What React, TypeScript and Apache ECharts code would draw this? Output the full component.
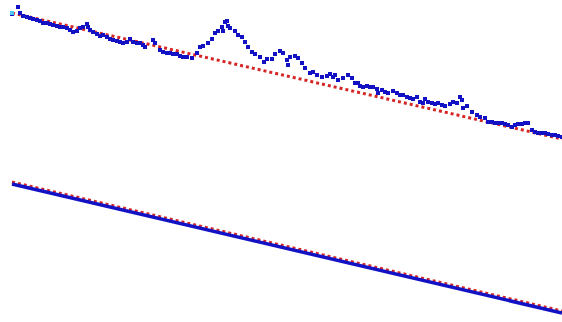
import React, { useEffect, useRef } from "react";
import * as echarts from "echarts";

// Measured profile (upper band): x position and level
const measuredX = [
  0, 6, 8, 11, 15, 18, 21, 25, 28, 31, 35, 38, 41, 45, 48, 51, 55, 58, 61, 65, 68, 71, 75, 76, 78, 81, 85, 88, 91, 95,
  98, 101, 105, 108, 111, 115, 118, 121, 125, 128, 131, 133, 141, 143, 148, 151, 155, 158, 161, 165, 168, 171, 175, 180,
  185, 188, 191, 196, 200, 203, 206, 210, 211, 213, 215, 216, 218, 223, 226, 230, 233, 236, 240, 243, 248, 252, 255, 260,
  263, 268, 271, 275, 276, 278, 283, 286, 290, 293, 298, 301, 305, 310, 315, 318, 321, 323, 326, 331, 336, 340, 343, 346,
  348, 351, 355, 358, 361, 365, 366, 370, 373, 376, 381, 385, 388, 391, 395, 398, 401, 405, 408, 411, 413, 416, 420, 423,
  426, 430, 433, 438, 441, 445, 448, 450, 451, 455, 460, 465, 468, 473, 476, 480, 483, 486, 490, 493, 496, 500, 503, 506,
  510, 513, 516, 520, 523, 526, 530, 533, 536, 540, 543, 546, 550,
];
const measuredY = [
  308, 315, 309, 306, 305, 304, 303, 302, 301, 299, 299, 298, 297, 296, 295, 295, 294, 292, 290, 291, 294, 295, 298, 295,
  292, 290, 288, 286, 287, 285, 283, 282, 281, 280, 279, 280, 283, 280, 279, 279, 277, 275, 282, 279, 272, 270, 269, 269,
  268, 268, 266, 265, 265, 264, 269, 275, 276, 279, 283, 289, 291, 295, 291, 300, 301, 296, 294, 291, 287, 285, 280, 275,
  270, 268, 265, 260, 263, 263, 268, 271, 269, 262, 257, 265, 266, 264, 259, 254, 249, 250, 247, 245, 246, 248, 245, 247,
  242, 244, 247, 244, 239, 239, 236, 235, 236, 235, 235, 233, 229, 232, 230, 229, 231, 229, 227, 227, 225, 224, 223, 225,
  220, 219, 223, 220, 219, 218, 219, 217, 216, 218, 220, 219, 225, 222, 214, 216, 210, 207, 205, 204, 200, 200, 199, 199,
  199, 198, 197, 195, 197, 198, 198, 199, 199, 192, 190, 189, 189, 189, 188, 187, 187, 186, 185,
];

// Linear trend of the upper band (start / end)
const trendUpper = [
  [0, 309],
  [550, 183],
];

// Lower band: reference curve and its fitted trend
const curveLower = [
  [0, 138],
  [550, 9],
];
const trendLower = [
  [0, 140],
  [550, 11],
];

// First sample, highlighted
const startPoint = [[0, 309]];

const BLUE = "#1212c4";
const RED = "#d42626";

export default function App() {
  const ref = useRef<HTMLDivElement>(null);

  useEffect(() => {
    if (!ref.current) return;
    const chart = echarts.init(ref.current, undefined, { renderer: "svg" });
    const measured = measuredX.map((x, i) => [x, measuredY[i]]);

    chart.setOption({
      animation: false,
      backgroundColor: "#ffffff",
      grid: { left: 12, right: 0, top: 0, bottom: 0, containLabel: false },
      xAxis: { type: "value", min: 0, max: 550, show: false },
      yAxis: { type: "value", min: 0, max: 322, show: false },
      series: [
        {
          type: "line",
          data: trendUpper,
          showSymbol: false,
          lineStyle: { color: RED, width: 3, type: [3, 3] },
          z: 2,
        },
        {
          type: "scatter",
          data: measured,
          symbol: "rect",
          symbolSize: 4,
          itemStyle: { color: BLUE, opacity: 1 },
          clip: false,
          z: 3,
        },
        {
          type: "line",
          data: trendLower,
          showSymbol: false,
          lineStyle: { color: RED, width: 3, type: [3, 3] },
          z: 2,
        },
        {
          type: "line",
          data: curveLower,
          showSymbol: false,
          lineStyle: { color: BLUE, width: 3.5 },
          z: 3,
        },
        {
          type: "scatter",
          data: startPoint,
          symbol: "rect",
          symbolSize: 4,
          itemStyle: { color: "#4cc8f0", opacity: 1 },
          clip: false,
          z: 4,
        },
      ],
    });

    return () => chart.dispose();
  }, []);

  return (
    <div
      ref={ref}
      style={{ position: "fixed", left: 0, top: 0, width: 562, height: 322 }}
    />
  );
}
